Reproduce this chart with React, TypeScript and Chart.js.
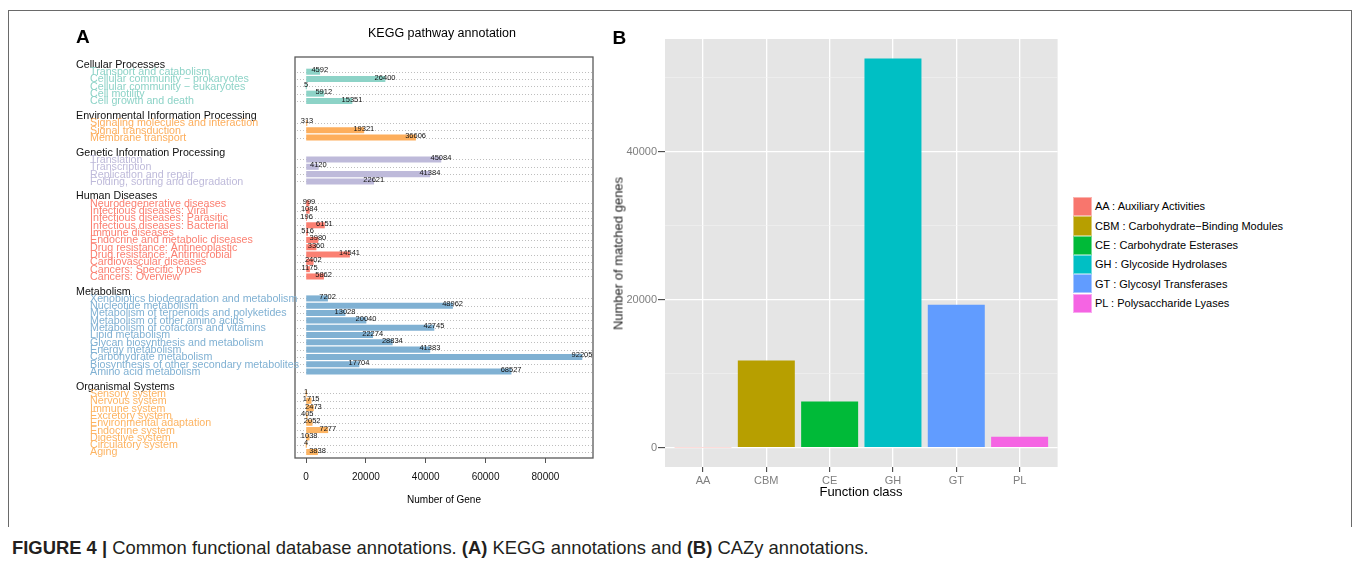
import React, { useEffect, useRef } from 'react';
import { Chart, registerables } from 'chart.js';

Chart.register(...registerables);

const FONT = '"Liberation Sans", Arial, Helvetica, sans-serif';

// ---------- Panel A : KEGG ----------
const groupNames = [
  'Cellular Processes',
  'Environmental Information Processing',
  'Genetic Information Processing',
  'Human Diseases',
  'Metabolism',
  'Organismal Systems',
];
const groupColors = ['#8DD3C7', '#FDAE5C', '#BEBADA', '#FB8072', '#80B1D3', '#FDB462'];

const cellularLabels = [
  'Transport and catabolism',
  'Cellular community \u2212 prokaryotes',
  'Cellular community \u2212 eukaryotes',
  'Cell motility',
  'Cell growth and death',
];
const cellularValues = [4592, 26400, 5, 5912, 15351];

const envLabels = ['Signaling molecules and interaction', 'Signal transduction', 'Membrane transport'];
const envValues = [313, 19321, 36606];

const geneticLabels = ['Translation', 'Transcription', 'Replication and repair', 'Folding, sorting and degradation'];
const geneticValues = [45084, 4120, 41384, 22621];

const humanLabels = [
  'Neurodegenerative diseases',
  'Infectious diseases: Viral',
  'Infectious diseases: Parasitic',
  'Infectious diseases: Bacterial',
  'Immune diseases',
  'Endocrine and metabolic diseases',
  'Drug resistance: Antineoplastic',
  'Drug resistance: Antimicrobial',
  'Cardiovascular diseases',
  'Cancers: Specific types',
  'Cancers: Overview',
];
const humanValues = [999, 1084, 196, 6151, 516, 3980, 3360, 14541, 2402, 1175, 5862];

const metabolismLabels = [
  'Xenobiotics biodegradation and metabolism',
  'Nucleotide metabolism',
  'Metabolism of terpenoids and polyketides',
  'Metabolism of other amino acids',
  'Metabolism of cofactors and vitamins',
  'Lipid metabolism',
  'Glycan biosynthesis and metabolism',
  'Energy metabolism',
  'Carbohydrate metabolism',
  'Biosynthesis of other secondary metabolites',
  'Amino acid metabolism',
];
const metabolismValues = [7202, 48962, 13028, 20040, 42745, 22274, 28834, 41383, 92205, 17704, 68527];

const organismalLabels = [
  'Sensory system',
  'Nervous system',
  'Immune system',
  'Excretory system',
  'Environmental adaptation',
  'Endocrine system',
  'Digestive system',
  'Circulatory system',
  'Aging',
];
const organismalValues = [1, 1715, 2473, 405, 2052, 7277, 1038, 4, 3838];

const keggTickValues = [0, 20000, 40000, 60000, 80000];

// ---------- Panel B : CAZy ----------
const cazyClasses = ['AA', 'CBM', 'CE', 'GH', 'GT', 'PL'];
const cazyValues = [25, 11780, 6230, 52634, 19323, 1449];
const cazyColors = ['#F8766D', '#B79F00', '#00BA38', '#00BFC4', '#619CFF', '#F564E3'];
const cazyLegend = [
  'AA : Auxiliary Activities',
  'CBM : Carbohydrate\u2212Binding Modules',
  'CE : Carbohydrate Esterases',
  'GH : Glycoside Hydrolases',
  'GT : Glycosyl Transferases',
  'PL : Polysaccharide Lyases',
];
const cazyMajorTicks = [0, 20000, 40000];
const cazyMinorTicks = [10000, 30000, 50000];

// ---------- rows for panel A ----------
type Row = { text: string; header: boolean; group: number; row: number; value: number };
const groupLabelLists = [cellularLabels, envLabels, geneticLabels, humanLabels, metabolismLabels, organismalLabels];
const groupValueLists = [cellularValues, envValues, geneticValues, humanValues, metabolismValues, organismalValues];

function buildRows(): Row[] {
  const out: Row[] = [];
  let r = 0;
  groupNames.forEach((g, gi) => {
    out.push({ text: g, header: true, group: gi, row: r, value: 0 });
    r++;
    groupLabelLists[gi].forEach((lab, li) => {
      out.push({ text: lab, header: false, group: gi, row: r, value: groupValueLists[gi][li] });
      r++;
    });
    r++;
  });
  return out;
}

function Txt(props: {
  x: number; y: number; size: number; children: React.ReactNode;
  align?: 'left' | 'center'; weight?: number | string; color?: string;
}) {
  const { x, y, size, children, align = 'left', weight = 'normal', color = '#000' } = props;
  const style: React.CSSProperties = {
    position: 'absolute',
    top: y - size / 2,
    fontSize: size,
    lineHeight: `${size}px`,
    fontWeight: weight as any,
    color,
    whiteSpace: 'nowrap',
    fontFamily: FONT,
  };
  if (align === 'center') {
    style.left = x - 300;
    style.width = 600;
    style.textAlign = 'center';
  } else {
    style.left = x;
  }
  return <div style={style}>{children}</div>;
}

export default function App() {
  const aRef = useRef<HTMLCanvasElement>(null);
  const bRef = useRef<HTMLCanvasElement>(null);

  useEffect(() => {
    const rows = buildRows();
    const items = rows.filter((r) => !r.header);

    const keggPlugin = {
      id: 'keggDecor',
      beforeDatasetsDraw(chart: any) {
        const { ctx, chartArea, scales } = chart;
        ctx.save();
        ctx.strokeStyle = '#BEBEBE';
        ctx.lineWidth = 1;
        ctx.setLineDash([1, 2]);
        items.forEach((it) => {
          const y = Math.round(scales.y.getPixelForValue(it.row)) + 0.5;
          ctx.beginPath();
          ctx.moveTo(chartArea.left + 2, y);
          ctx.lineTo(chartArea.right - 1, y);
          ctx.stroke();
        });
        ctx.restore();
      },
      afterDatasetsDraw(chart: any) {
        const { ctx, scales } = chart;
        ctx.save();
        ctx.fillStyle = '#111';
        ctx.font = `7.5px ${FONT}`;
        ctx.textAlign = 'center';
        ctx.textBaseline = 'middle';
        items.forEach((it) => {
          const x = scales.x.getPixelForValue(it.value);
          const y = scales.y.getPixelForValue(it.row) - 1.5;
          ctx.fillText(String(it.value), x, y);
        });
        ctx.restore();
      },
      afterDraw(chart: any) {
        const { ctx, chartArea, scales } = chart;
        ctx.save();
        ctx.strokeStyle = '#5A5A5A';
        ctx.lineWidth = 1.3;
        ctx.strokeRect(chartArea.left, chartArea.top, chartArea.right - chartArea.left, chartArea.bottom - chartArea.top);
        ctx.font = `10.7px ${FONT}`;
        ctx.textAlign = 'left';
        ctx.textBaseline = 'middle';
        rows.forEach((r) => {
          const y = scales.y.getPixelForValue(r.row) + 0.5;
          ctx.fillStyle = r.header ? '#111' : groupColors[r.group];
          ctx.fillText(r.text, r.header ? 76 : 90, y);
        });
        ctx.restore();
      },
    };

    const chartA = new Chart(aRef.current as HTMLCanvasElement, {
      type: 'bar',
      data: {
        datasets: [
          {
            data: items.map((it) => ({ x: it.value, y: it.row })) as any,
            backgroundColor: items.map((it) => groupColors[it.group]),
            borderWidth: 0,
            barThickness: 5.4,
          },
        ],
      },
      options: {
        animation: false,
        responsive: false,
        indexAxis: 'y',
        layout: { padding: { left: 295, right: 7, top: 57, bottom: 22 } },
        plugins: { legend: { display: false }, tooltip: { enabled: false }, title: { display: false } },
        scales: {
          x: {
            type: 'linear',
            min: -3688,
            max: 95893,
            offset: false,
            afterBuildTicks: (s: any) => {
              s.ticks = keggTickValues.map((v) => ({ value: v }));
            },
            afterFit: (s: any) => {
              s.height = 40;
            },
            grid: { display: true, drawOnChartArea: false, drawTicks: true, tickLength: 5, tickColor: '#555', tickWidth: 1, offset: false },
            border: { display: false },
            ticks: {
              color: '#111',
              font: { family: FONT, size: 10 },
              padding: 8,
              maxRotation: 0,
              autoSkip: false,
              callback: (v: any) => String(v),
            },
          },
          y: {
            type: 'linear',
            reverse: true,
            min: -1.012,
            max: 53.82,
            offset: false,
            display: false,
            grid: { offset: false },
          },
        },
      } as any,
      plugins: [keggPlugin],
    });

    const bgPlugin = {
      id: 'ggBg',
      beforeDraw(chart: any) {
        const { ctx, chartArea } = chart;
        ctx.save();
        ctx.fillStyle = '#E5E5E5';
        ctx.fillRect(chartArea.left, chartArea.top, chartArea.right - chartArea.left, chartArea.bottom - chartArea.top);
        ctx.restore();
      },
    };

    const isMajor = (v: number) => cazyMajorTicks.includes(v);

    const chartB = new Chart(bRef.current as HTMLCanvasElement, {
      type: 'bar',
      data: {
        datasets: [
          {
            data: cazyValues.map((v, i) => ({ x: i, y: v })) as any,
            backgroundColor: cazyColors,
            borderWidth: 0,
            barPercentage: 0.9,
            categoryPercentage: 1,
          },
        ],
      },
      options: {
        animation: false,
        responsive: false,
        layout: { padding: { left: 15, right: 12.4, top: 19, bottom: 23 } },
        plugins: { legend: { display: false }, tooltip: { enabled: false } },
        scales: {
          x: {
            type: 'linear',
            min: -0.6,
            max: 5.6,
            offset: false,
            afterBuildTicks: (s: any) => {
              s.ticks = cazyClasses.map((_, i) => ({ value: i }));
            },
            afterFit: (s: any) => {
              s.height = 30;
            },
            grid: { color: '#FFFFFF', lineWidth: 1.3, tickColor: '#333333', tickLength: 5, tickWidth: 1, offset: false },
            border: { display: false },
            ticks: {
              color: '#7F7F7F',
              font: { family: FONT, size: 11 },
              padding: 2,
              maxRotation: 0,
              autoSkip: false,
              callback: (v: any) => cazyClasses[v as number] ?? '',
            },
          },
          y: {
            type: 'linear',
            min: -2632,
            max: 55266,
            afterBuildTicks: (s: any) => {
              s.ticks = [...cazyMajorTicks, ...cazyMinorTicks].sort((a, b) => a - b).map((v) => ({ value: v }));
            },
            afterFit: (s: any) => {
              s.width = 50;
            },
            grid: {
              color: (c: any) => (isMajor(c.tick?.value) ? '#FFFFFF' : '#F2F2F2'),
              lineWidth: (c: any) => (isMajor(c.tick?.value) ? 1.3 : 0.6),
              tickColor: (c: any) => (isMajor(c.tick?.value) ? '#333333' : 'rgba(0,0,0,0)'),
              tickLength: 7,
              tickWidth: 1,
            },
            border: { display: false },
            ticks: {
              color: '#7F7F7F',
              font: { family: FONT, size: 11 },
              padding: 1,
              autoSkip: false,
              callback: (v: any) => (isMajor(v) ? String(v) : ''),
            },
          },
        },
      } as any,
      plugins: [bgPlugin],
    });

    return () => {
      chartA.destroy();
      chartB.destroy();
    };
  }, []);

  const line = '#6A6A6A';

  return (
    <div
      style={{
        position: 'absolute',
        left: 0,
        top: 0,
        width: 1360,
        height: 569,
        background: '#FFFFFF',
        overflow: 'hidden',
        fontFamily: FONT,
      }}
    >
      {/* frame */}
      <div style={{ position: 'absolute', left: 8, top: 10, width: 1344, height: 1, background: line }} />
      <div style={{ position: 'absolute', left: 8, top: 10, width: 1, height: 517, background: line }} />
      <div style={{ position: 'absolute', left: 1351, top: 10, width: 1, height: 517, background: line }} />

      <canvas ref={aRef} width={600} height={520} style={{ position: 'absolute', left: 0, top: 0, width: 600, height: 520 }} />
      <canvas ref={bRef} width={470} height={500} style={{ position: 'absolute', left: 600, top: 20, width: 470, height: 500 }} />

      {/* panel A texts */}
      <Txt x={76} y={36.5} size={19} weight="bold">A</Txt>
      <Txt x={442} y={33} size={12.5} align="center">KEGG pathway annotation</Txt>
      <Txt x={444} y={500} size={10} align="center">Number of Gene</Txt>

      {/* panel B texts */}
      <Txt x={612.5} y={37} size={19} weight="bold">B</Txt>
      <Txt x={861} y={491.5} size={13} align="center">Function class</Txt>
      <div
        style={{
          position: 'absolute',
          left: 618 - 150,
          top: 253 - 6.5,
          width: 300,
          height: 13,
          lineHeight: '13px',
          fontSize: 13,
          fontWeight: 'normal',
          textAlign: 'center',
          transform: 'rotate(-90deg)',
          whiteSpace: 'nowrap',
          fontFamily: FONT,
          color: '#222',
        }}
      >
        Number of matched genes
      </div>

      {/* legend B */}
      {cazyLegend.map((lab, i) => (
        <React.Fragment key={lab}>
          <div
            style={{
              position: 'absolute',
              left: 1073,
              top: 197 + i * 19.3,
              width: 19.3,
              height: 19.3,
              boxSizing: 'border-box',
              border: '1px solid rgba(255,255,255,0.45)',
              background: cazyColors[i],
            }}
          />
          <Txt x={1095} y={197 + i * 19.3 + 9.9} size={11}>{lab}</Txt>
        </React.Fragment>
      ))}

      {/* caption */}
      <Txt x={12} y={548} size={18.4} color="#231F20">
        <b>FIGURE 4 |</b> Common functional database annotations. <b>(A)</b> KEGG annotations and <b>(B)</b> CAZy annotations.
      </Txt>
    </div>
  );
}
